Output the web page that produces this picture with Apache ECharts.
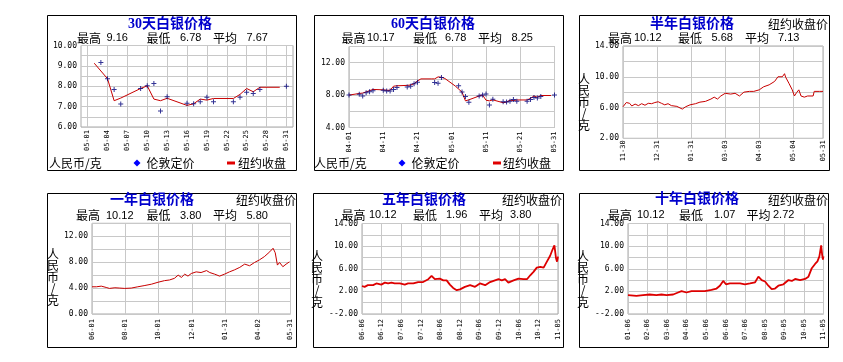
<!DOCTYPE html>
<html><head><meta charset="utf-8">
<script src="https://cdn.jsdelivr.net/npm/echarts@6/dist/echarts.min.js"></script>
<style>html,body{margin:0;padding:0;background:#fff}#c{width:843px;height:362px}</style>
</head><body><div id="c"></div>
<script>
// ================= DATA =================
// Panel 1: 30 days (category = calendar day, index == day of May)
const cat30 = ['04-30','05-01','05-02','05-03','05-04','05-05','05-06','05-07','05-08','05-09','05-10',
  '05-11','05-12','05-13','05-14','05-15','05-16','05-17','05-18','05-19','05-20','05-21','05-22',
  '05-23','05-24','05-25','05-26','05-27','05-28','05-29','05-30','05-31','06-01'];
// [day of May, price]
const ny30 = [[2,9.13],[3,8.75],[4,8.37],[5,7.29],[6,7.42],[9,7.89],[10,8.02],[11,7.37],[12,7.29],[13,7.41],
  [16,7.06],[17,7.14],[18,7.37],[19,7.32],[20,7.40],[23,7.40],[24,7.60],[25,7.89],[26,7.73],[27,7.95],[30,7.95]];
const ldn30 = [[3,9.16],[4,8.37],[5,7.84],[6,7.13],[9,7.89],[10,8.02],[11,8.13],[12,6.78],[13,7.49],[16,7.17],
  [17,7.14],[18,7.24],[19,7.46],[20,7.24],[23,7.24],[24,7.46],[25,7.70],[26,7.65],[27,7.84],[31,8.00]];

// Panel 2: 60 days, x = days since 04-01 (April part; May comes from the 30-day arrays)
const xl60 = ['04-01','04-11','04-21','05-01','05-11','05-21','05-31'];
const nyApr = [[0,8.0],[3,8.2],[4,8.25],[5,8.4],[6,8.55],[7,8.7],[10,8.65],[11,8.6],[12,8.6],[13,9.1],[14,9.15],
  [17,9.2],[18,9.25],[19,9.4],[20,9.75],[21,10.0],[24,10.0],[25,10.0],[26,10.25],[27,10.2],[28,10.05]];
const ldnApr = [[0,8.0],[3,8.1],[4,7.9],[5,8.3],[6,8.4],[7,8.55],[10,8.6],[11,8.5],[12,8.5],[13,8.7],[14,8.95],
  [17,9.0],[18,9.1],[19,9.4],[20,9.6],[25,9.55],[26,9.45],[27,10.17]];
const mayOffset60 = 29;

// Panel 3: half year, x = days since 11-30
const xlHalf = ['11-30','12-31','01-31','03-03','04-03','05-04','05-31'];
const halfYear = [[0,6.1],[3,6.65],[6,6.55],[8,6.2],[11,6.45],[14,6.25],[17,6.5],[20,6.3],[23,6.55],[26,6.5],[29,6.65],
  [32,6.75],[35,6.55],[38,6.35],[41,6.5],[44,6.25],[49,6.15],[54,5.8],[57,6.1],[61,6.35],[66,6.5],[70,6.7],[75,6.8],
  [80,7.1],[83,7.35],[86,7.1],[89,7.5],[93,7.85],[98,7.75],[102,7.85],[106,7.5],[110,8.0],[115,8.1],[119,8.1],
  [124,8.3],[128,8.7],[133,8.95],[138,9.4],[141,10.0],[145,10.0],[147,10.4],[148,9.95],[151,9.15],[154,8.3],
  [156,7.5],[158,7.95],[160,8.3],[162,7.5],[165,7.35],[168,7.5],[173,7.5],[174,8.1],[179,8.1],[182,8.1]];

// Panel 4: one year, x = days since 06-01
const xlYear = ['06-01','08-01','10-01','12-01','01-31','04-02','05-31'];
const oneYear = [[0,4.2],[8,4.2],[17,4.3],[26,4.1],[32,3.95],[42,4.05],[51,4.0],[60,3.95],[72,4.0],[84,4.2],[97,4.4],
  [109,4.6],[121,4.9],[133,5.15],[142,5.25],[151,5.5],[158,6.0],[164,5.65],[170,6.15],[176,5.85],[182,6.25],
  [191,6.5],[200,6.4],[210,6.7],[216,6.4],[225,6.15],[234,5.85],[243,6.15],[252,6.5],[261,6.8],[271,7.2],
  [280,7.7],[289,7.45],[298,7.95],[307,8.35],[316,8.85],[326,9.6],[332,10.15],[336,9.45],[340,7.55],[344,7.95],
  [350,7.3],[356,7.7],[362,8.05]];

// Panel 5: five years, x = months since 2006-06
const xlFive = ['06-06','06-12','07-06','07-12','08-06','08-12','09-06','09-12','10-06','10-12','11-05'];
const fiveYear = [[0,2.95],[0.8,2.8],[1.8,3.1],[3.4,3.1],[4.4,3.4],[5.9,3.2],[7,3.55],[8,3.4],[9,3.55],[10,3.4],
  [11.6,3.4],[13.1,3.2],[14.1,3.4],[15.7,3.4],[17.2,3.65],[18.7,3.65],[20.3,4.15],[21.3,4.75],[22.3,4.15],
  [23.8,4.25],[24.9,3.95],[25.9,3.95],[26.9,3.2],[27.9,2.6],[29,2.2],[30,2.35],[31.5,2.8],[33.1,3.1],[34.6,2.8],
  [36.1,3.4],[37.7,3.1],[39.2,3.65],[40.7,3.95],[41.8,4.15],[42.8,3.95],[43.8,4.15],[44.8,3.55],[46.4,3.95],
  [47.9,4.25],[49.4,4.15],[50.5,4.15],[51.5,4.85],[52.5,5.45],[53.5,6.2],[54.6,6.35],[55.6,6.2],[56.6,7.25],
  [57.6,8.3],[58.3,9.35],[58.9,10.12],[59.4,7.85],[59.7,7.25],[60,8.15]];

// Panel 6: ten years, x = years since 2001-06
const xlTen = ['01-06','02-06','03-06','04-06','05-06','06-06','07-06','08-05','09-05','10-05','11-05'];
const tenYear = [[0,1.35],[0.43,1.2],[0.51,1.45],[0.77,1.35],[1.11,1.45],[1.45,1.35],[1.71,1.45],[1.97,1.35],
  [2.31,1.45],[2.56,1.8],[2.74,2.05],[2.82,2.4],[2.99,1.8],[3.25,2.05],[3.59,2.05],[3.93,2.05],[4.27,2.25],
  [4.53,2.5],[4.7,3.0],[4.87,3.85],[5.01,3.25],[5.21,3.4],[5.47,3.4],[5.73,3.4],[5.98,3.25],[6.24,3.4],[6.5,3.6],
  [6.67,4.6],[6.84,4.0],[7.01,3.75],[7.18,3.0],[7.35,2.4],[7.52,2.5],[7.69,3.0],[7.95,3.25],[8.21,4.0],[8.38,3.85],
  [8.55,4.2],[8.8,4.0],[9.06,4.2],[9.23,4.6],[9.4,6.1],[9.57,6.85],[9.69,7.3],[9.79,8.2],[9.88,10.12],[9.93,8.5],
  [9.97,7.6],[10,8.2]];

// Texts
const titles = ['30天白银价格','60天白银价格','半年白银价格','一年白银价格','五年白银价格','十年白银价格'];
const statHigh = ['9.16','10.17','10.12','10.12','10.12','10.12'];
const statLow  = ['6.78','6.78','5.68','3.80','1.96','1.07'];
const statAvg  = ['7.67','8.25','7.13','5.80','3.80','2.72'];
const statNames = ['最高','最低','平均'];
const unitText = '人民币/克';
const seriesNames = ['伦敦定价','纽约收盘'];
const nyCloseText = '纽约收盘价';

// ================= LAYOUT / STYLE =================
const CJK = '"Noto Sans CJK SC",sans-serif';
const SANS = '"Liberation Sans","Noto Sans CJK SC",sans-serif';
const MONO = '"DejaVu Sans Mono",monospace';
const GRID_C = '#c8c8c8';
const RED = '#c80000';
const NAVY = '#00007a';
const plus = 'path://M2,0H3V2H5V3H3V5H2V3H0V2H2Z';

const boxes = [[47,15,249,155],[314,15,249,155],[579,15,250,155],[47,193,249,154],[313,193,250,154],[579,193,249,154]];
const grids = [
  {left:81, top:45.5, width:212, height:81.5},
  {left:349, top:46.5, width:205.5, height:81},
  {left:623, top:46, width:200, height:92.3},
  {left:92, top:223.3, width:198.5, height:90.7},
  {left:362, top:223.5, width:196, height:90.5},
  {left:628, top:223.5, width:195.5, height:90.5}
].map(g => Object.assign(g, {show:true, borderColor:'#a8a8a8', borderWidth:1, backgroundColor:'#fff', containLabel:false, outerBoundsMode:'none'}));

const titlePos = [[170,24],[433,24],[692,24],[152,200],[424,200],[697,199]];
const statY = [38,38,38,215.5,215,215];
const statX = [
  [77,106.5,146.5,180,213,246.5],
  [341.5,367,413,445,478,511.5],
  [608,634,678,711.5,745,778],
  [76,106,146.5,180,213,246.5],
  [341.5,369,413,446,479,510],
  [608,637,679,714,746.5,773]
];
const nyPos = [null,null,[768,24],[236,200],[502,200],[768,200]];
const yNamePos = [null,null,[584,102],[53,277],[317,279],[583,279]];
const legendRow = [
  {unit:49, dia:137, ldn:146.5, dash:227, ny:238, y:163},
  {unit:314, dia:402, ldn:411.5, dash:493, ny:503, y:163}
];

function T(x, y, text, size, o) {
  o = o || {};
  const fam = o.family || CJK;
  return {type:'text', x:x, y:y, z:100, silent:true,
    style:{text:text, fill:o.color||'#000', font:(o.bold?'bold ':'')+size+'px '+fam,
      align:o.align||'left', verticalAlign:'middle', textAlign:o.align||'left', textVerticalAlign:'middle',
      lineHeight:o.lh}};
}

const graphics = [];
boxes.forEach(b => graphics.push({type:'rect', z:90, silent:true,
  shape:{x:b[0]+0.5, y:b[1]+0.5, width:b[2], height:b[3]}, style:{fill:'none', stroke:'#000', lineWidth:1}}));
titles.forEach((t,i) => graphics.push(T(titlePos[i][0], titlePos[i][1], t, 14,
  {bold:true, color:'#0000cc', align:'center', family:'"Liberation Serif","Noto Sans CJK SC",serif'})));
for (let i=0;i<6;i++) {
  const xs = statX[i], y = statY[i];
  graphics.push(T(xs[0], y, statNames[0], 12));
  graphics.push(T(xs[1], y, statHigh[i], 11, {family:SANS}));
  graphics.push(T(xs[2], y, statNames[1], 12));
  graphics.push(T(xs[3], y, statLow[i], 11, {family:SANS}));
  graphics.push(T(xs[4], y, statNames[2], 12));
  graphics.push(T(xs[5], y, statAvg[i], 11, {family:SANS}));
  if (nyPos[i]) graphics.push(T(nyPos[i][0], nyPos[i][1], nyCloseText, 12));
  if (yNamePos[i]) graphics.push(T(yNamePos[i][0], yNamePos[i][1], unitText.split('').join('\n'), 12, {align:'center', lh:11.5}));
}
legendRow.forEach(L => {
  graphics.push(T(L.unit, L.y, unitText, 12));
  graphics.push({type:'polygon', z:100, silent:true, shape:{points:[[L.dia,L.y-3.5],[L.dia+3.5,L.y],[L.dia,L.y+3.5],[L.dia-3.5,L.y]]}, style:{fill:'#0000ff'}});
  graphics.push(T(L.ldn, L.y, seriesNames[0], 12));
  graphics.push({type:'rect', z:100, silent:true, shape:{x:L.dash, y:L.y-1.5, width:8, height:3}, style:{fill:'#e00000'}});
  graphics.push(T(L.ny, L.y, seriesNames[1], 12));
});

// axes
function yAx(i, min, max, interval, show) {
  return {type:'value', gridIndex:i, min:min, max:max, interval:interval,
    axisLine:{show:false}, axisTick:{show:false},
    splitLine:{show:true, lineStyle:{color:GRID_C, width:1}},
    axisLabel:{fontSize:8, fontFamily:MONO, color:'#000', margin:4,
      formatter: v => show(v) ? (v < 0 ? '-' + v.toFixed(2) : v.toFixed(2)) : ''}};
}
function xAx(i, min, max, interval, fmt, margin) {
  return {type:'value', gridIndex:i, min:min, max:max, interval:interval,
    axisLine:{show:false}, axisTick:{show:false},
    splitLine:{show:true, lineStyle:{color:GRID_C, width:1}},
    axisLabel:{rotate:90, fontSize:7, fontFamily:MONO, color:'#000', margin:margin, formatter:fmt,
      showMinLabel:true, showMaxLabel:true, hideOverlap:false}};
}
const xAxes = [
  {type:'category', gridIndex:0, data:cat30, boundaryGap:false,
    axisLine:{show:false}, axisTick:{show:false},
    splitLine:{show:true, interval:(i)=> i>=1 && i<=31 && (i-1)%3===0, lineStyle:{color:GRID_C, width:1}},
    axisLabel:{rotate:90, fontSize:7, fontFamily:MONO, color:'#000', margin:3,
      interval:(i)=> i>=1 && i<=31 && (i-1)%3===0}},
  xAx(1, 0, 60, 10, v => xl60[Math.round(v/10)] || '', 4),
  xAx(2, 0, 182, 31, v => xlHalf[Math.round(v/31)] || '', 2),
  xAx(3, 0, 364, 61, v => xlYear[Math.round(v/61)] || '', 5),
  xAx(4, 0, 60, 6, v => xlFive[Math.round(v/6)] || '', 5),
  xAx(5, 0, 10, 1, v => xlTen[Math.round(v)] || '', 5)
];
const yAxes = [
  yAx(0, 6, 10, 0.5, v => Math.abs(v - Math.round(v)) < 1e-6),
  yAx(1, 4, 14, 2, v => v % 4 === 0 && v < 14),
  yAx(2, 2, 14, 2, v => (v - 2) % 4 === 0),
  yAx(3, 0, 14, 2, v => v % 4 === 0 && v < 14),
  yAx(4, -2, 14, 2, v => (v + 2) % 4 === 0),
  yAx(5, -2, 14, 2, v => (v + 2) % 4 === 0)
];

function lineS(i, data, width, color) {
  return {type:'line', name:seriesNames[1], xAxisIndex:i, yAxisIndex:i, data:data, symbol:'none',
    lineStyle:{color:color||RED, width:width||1}, itemStyle:{color:color||RED}, animation:false, z:3};
}
function dotS(i, data) {
  return {type:'scatter', name:seriesNames[0], xAxisIndex:i, yAxisIndex:i, data:data, symbol:plus,
    symbolSize:5, itemStyle:{color:NAVY}, animation:false, z:4};
}
const ny60 = nyApr.concat(ny30.map(p => [p[0] + mayOffset60, p[1]]));
const ldn60 = ldnApr.concat(ldn30.map(p => [p[0] + mayOffset60, p[1]]));

const series = [
  lineS(0, ny30), dotS(0, ldn30),
  lineS(1, ny60), dotS(1, ldn60),
  lineS(2, halfYear),
  lineS(3, oneYear),
  lineS(4, fiveYear, 1.8, '#dd0000'),
  lineS(5, tenYear, 1.8, '#dd0000')
];

const chart = echarts.init(document.getElementById('c'), null, {renderer:'canvas', width:843, height:362});
chart.setOption({
  backgroundColor:'#fff', animation:false,
  grid:grids, xAxis:xAxes, yAxis:yAxes, series:series, graphic:graphics
});
</script></body></html>
